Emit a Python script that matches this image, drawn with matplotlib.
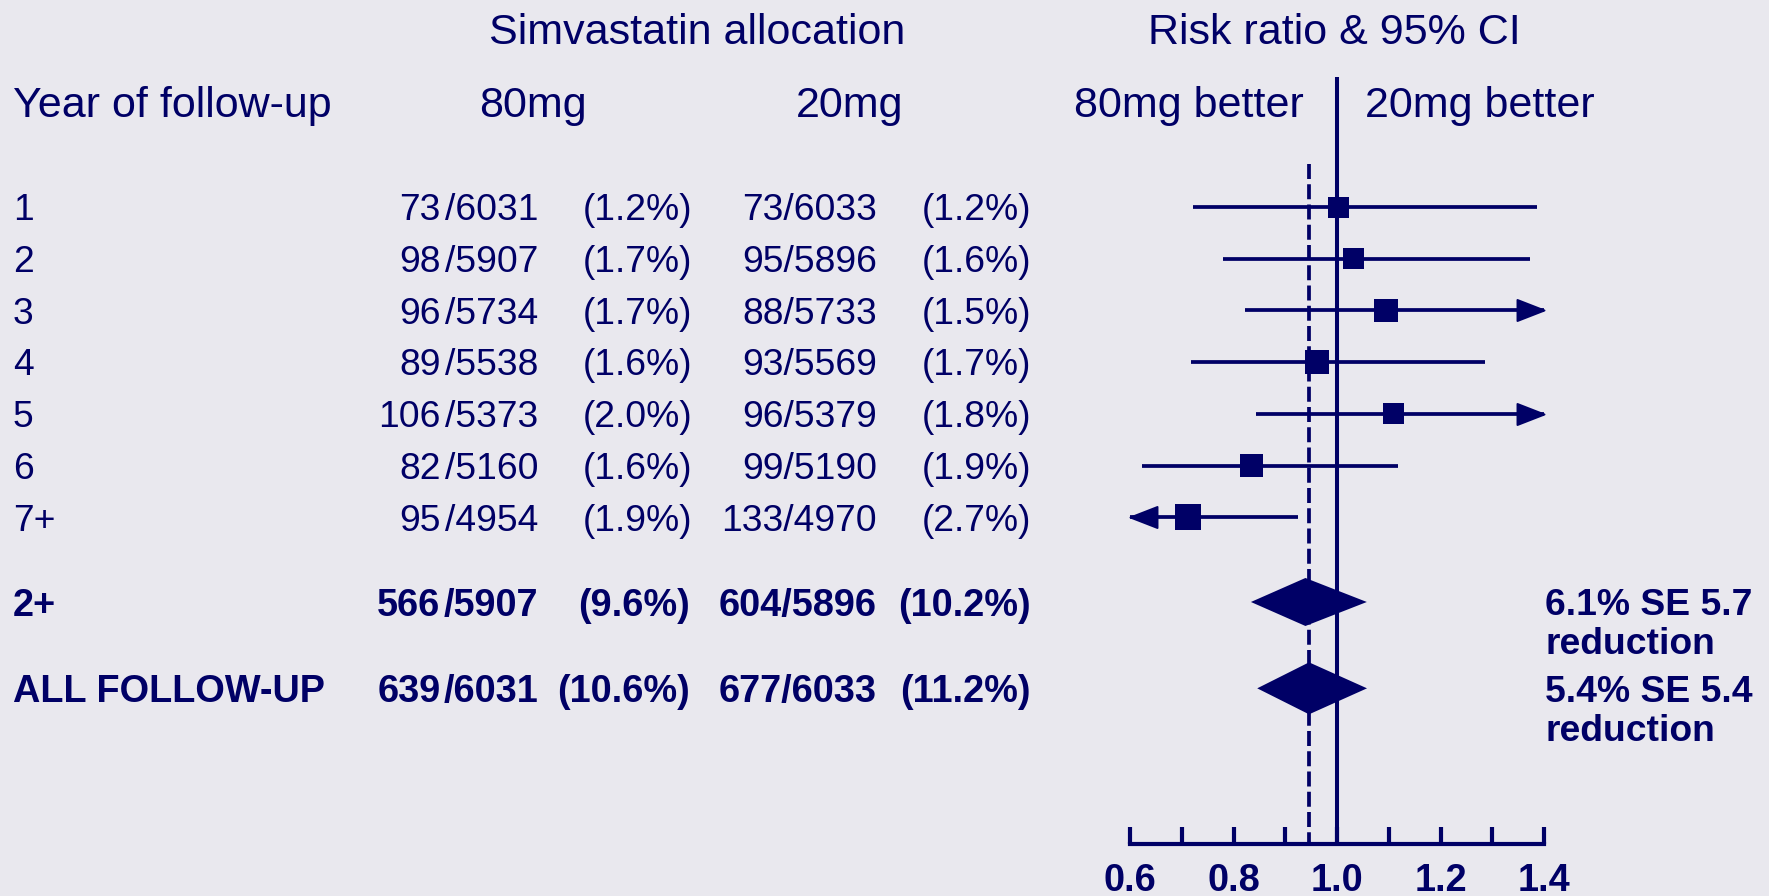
import numpy as np
import matplotlib
matplotlib.use("Agg")
import matplotlib.pyplot as plt
from matplotlib import transforms
from matplotlib.path import Path

# ---------------------------------------------------------------- data
years = ["1", "2", "3", "4", "5", "6", "7+"]
events_80 = [73, 98, 96, 89, 106, 82, 95]
totals_80 = [6031, 5907, 5734, 5538, 5373, 5160, 4954]
events_20 = [73, 95, 88, 93, 96, 99, 133]
totals_20 = [6033, 5896, 5733, 5569, 5379, 5190, 4970]

# risk ratio (80mg vs 20mg) with 95% CI for each year
rr = [1.002, 1.032, 1.095, 0.961, 1.110, 0.835, 0.712]
rr_lo = [0.722, 0.779, 0.822, 0.718, 0.844, 0.623, 0.550]
rr_hi = [1.386, 1.372, 1.460, 1.286, 1.460, 1.117, 0.925]

summary_labels = ["2+", "ALL FOLLOW-UP"]
summary_events_80 = [566, 639]
summary_totals_80 = [5907, 6031]
summary_events_20 = [604, 677]
summary_totals_20 = [5896, 6033]
summary_reduction = [6.1, 5.4]   # % reduction
summary_se = [5.7, 5.4]          # SE of the % reduction

axis_ticks = [0.6, 0.8, 1.0, 1.2, 1.4]
axis_minor = [0.7, 0.9, 1.1, 1.3]

# ---------------------------------------------------------------- style
NAVY = "#000066"
BG = "#E9E8EE"
W, H = 1769, 896
FONT = "Liberation Sans"
HEAD_FS = 31
TAB_FS = 26.8
BOLD_FS = 27.3

plt.rcParams["font.family"] = [FONT, "DejaVu Sans"]

fig = plt.figure(figsize=(W / 100, H / 100), dpi=100, facecolor=BG)

# forest-plot axes: x is the risk ratio, y is in row units
ROW0_PX, PITCH_PX = 207.0, 51.7
AXIS_PX = 844.3
X0_PX, X1_PX = 1130.0, 1544.0
ax = fig.add_axes([X0_PX / W, (H - AXIS_PX) / H, (X1_PX - X0_PX) / W, AXIS_PX / H])
ax.set_facecolor("none")
ax.set_xlim(0.6, 1.4)
ax.set_ylim((AXIS_PX - ROW0_PX) / PITCH_PX, -ROW0_PX / PITCH_PX)

year_rows = np.arange(len(years), dtype=float)
summary_rows = np.array([7.64, 9.31])

for s in ("left", "right", "top"):
    ax.spines[s].set_visible(False)
ax.spines["bottom"].set_color(NAVY)
ax.spines["bottom"].set_linewidth(3.0)
ax.set_yticks([])
ax.set_xticks(axis_ticks)
ax.set_xticklabels([f"{t:.1f}" for t in axis_ticks], fontsize=BOLD_FS,
                   fontweight="bold", color=NAVY)
ax.set_xticks(axis_minor, minor=True)
ax.tick_params(axis="x", which="both", direction="in", length=12.2,
               width=3.0, color=NAVY, pad=13.5)

# reference lines
y_bottom = ax.get_ylim()[0]
ax.plot([1.0, 1.0], [(77 - ROW0_PX) / PITCH_PX, y_bottom], color=NAVY,
        lw=2.9, clip_on=False, zorder=2, solid_capstyle="butt")
overall_rr = 1 - summary_reduction[1] / 100
ax.plot([overall_rr, overall_rr], [(164 - ROW0_PX) / PITCH_PX, y_bottom],
        color=NAVY, lw=2.7, clip_on=False, zorder=2,
        linestyle=(0, (4.0, 1.4)), dash_capstyle="butt")

# arrowhead markers with the tip at the marker origin
HEAD_LEN, HEAD_HALF = 27.0, 10.5   # pixels
head_right = Path([(0, 0), (-HEAD_LEN, HEAD_HALF), (-HEAD_LEN, -HEAD_HALF), (0, 0)],
                  [Path.MOVETO, Path.LINETO, Path.LINETO, Path.CLOSEPOLY])
head_left = Path([(0, 0), (HEAD_LEN, HEAD_HALF), (HEAD_LEN, -HEAD_HALF), (0, 0)],
                 [Path.MOVETO, Path.LINETO, Path.LINETO, Path.CLOSEPOLY])
head_ms = 2 * HEAD_LEN * 0.72

# per-year confidence intervals and boxes
xmin, xmax = ax.get_xlim()
CI_LW = 2.7
for r, est, lo, hi in zip(year_rows, rr, rr_lo, rr_hi):
    a, b = max(lo, xmin), min(hi, xmax)
    ax.plot([a, b], [r, r], color=NAVY, lw=CI_LW, clip_on=False,
            zorder=3, solid_capstyle="butt")
    if hi > xmax:
        ax.plot([xmax], [r], marker=head_right, markersize=head_ms, color=NAVY,
                markeredgewidth=1.4, clip_on=False, zorder=3)
    if lo < xmin:
        ax.plot([xmin], [r], marker=head_left, markersize=head_ms, color=NAVY,
                markeredgewidth=1.4, clip_on=False, zorder=3)

box_px = [21, 21, 23.5, 23.5, 21, 23.5, 26]
ax.scatter(rr, year_rows, marker="s", s=[(b * 0.72) ** 2 for b in box_px],
           color=NAVY, linewidths=0, zorder=4, clip_on=False)

# summary diamonds (95% CI on the log scale)
diamond_half_h = [24 / PITCH_PX, 26 / PITCH_PX]
for r, red, se, hh in zip(summary_rows, summary_reduction, summary_se,
                          diamond_half_h):
    c = 1 - red / 100
    se_log = (se / 100) / c
    lo = c * np.exp(-1.96 * se_log)
    hi = c * np.exp(1.96 * se_log)
    ax.fill([lo, c, hi, c], [r, r - hh, r, r + hh], color=NAVY, lw=0,
            zorder=4, clip_on=False)

# ---------------------------------------------------------------- text
def fx(px):
    return px / W

def fy(px):
    return 1 - px / H

# headers
hdr = dict(fontsize=HEAD_FS, color=NAVY, va="baseline")
fig.text(fx(697), fy(44.5), "Simvastatin allocation", ha="center", **hdr)
fig.text(fx(1334), fy(44.5), "Risk ratio & 95% CI", ha="center", **hdr)
fig.text(fx(13), fy(116.5), "Year of follow-up", ha="left", **hdr)
fig.text(fx(533), fy(116.5), "80mg", ha="center", **hdr)
fig.text(fx(850), fy(116.5), "20mg", ha="center", **hdr)
fig.text(fx(1304), fy(116.5), "80mg better", ha="right", **hdr)
fig.text(fx(1365), fy(116.5), "20mg better", ha="left", **hdr)

# table rows: x in figure fraction, y in row units, baseline shifted so the
# cap height is centred on the row
row_trans = transforms.blended_transform_factory(fig.transFigure, ax.transData)


def row_offset(fs, extra=0.0):
    return transforms.offset_copy(row_trans, fig=fig, y=-0.358 * fs - extra,
                                  units="points")


def table_row(r, label, e80, n80, e20, n20, weight, fs, pct_right):
    kw = dict(fontsize=fs, color=NAVY, va="baseline", fontweight=weight,
              transform=row_offset(fs))
    ax.text(fx(13), r, label, ha="left", **kw)
    ax.text(fx(440.5), r, f"{e80}", ha="right", **kw)
    ax.text(fx(538.5), r, f"/{n80}", ha="right", **kw)
    ax.text(fx(pct_right), r, f"({100 * e80 / n80:.1f}%)", ha="right", **kw)
    ax.text(fx(877), r, f"{e20}/{n20}", ha="right", **kw)
    ax.text(fx(1031), r, f"({100 * e20 / n20:.1f}%)", ha="right", **kw)


for r, lab, a, b, c, d in zip(year_rows, years, events_80, totals_80,
                              events_20, totals_20):
    table_row(r, lab, a, b, c, d, "normal", TAB_FS, 692)

for r, lab, a, b, c, d in zip(summary_rows, summary_labels, summary_events_80,
                              summary_totals_80, summary_events_20,
                              summary_totals_20):
    table_row(r, lab, a, b, c, d, "bold", BOLD_FS, 690)

# reduction notes beside the diamonds
for r, red, se in zip(summary_rows, summary_reduction, summary_se):
    kw = dict(fontsize=TAB_FS, color=NAVY, va="baseline", ha="left",
              fontweight="bold")
    ax.text(fx(1545), r, f"{red:.1f}% SE {se:.1f}",
            transform=row_offset(TAB_FS), **kw)
    ax.text(fx(1545), r, "reduction",
            transform=row_offset(TAB_FS, extra=28.1), **kw)

fig.savefig("out.png", dpi=100, facecolor=BG)
